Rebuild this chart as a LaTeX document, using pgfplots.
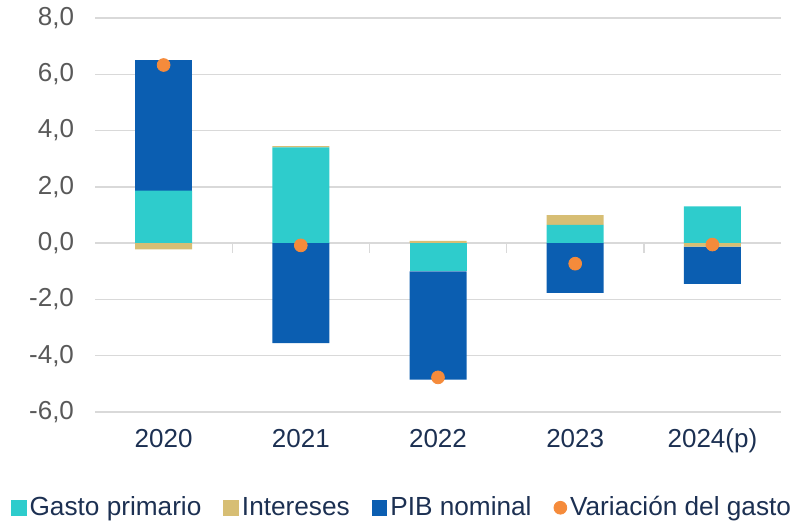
\documentclass[border=0pt]{standalone}
\usepackage{fontspec}
\setmainfont{Liberation Sans}
\usepackage{pgfplots}
\usepackage{pgfplotstable}
\pgfplotsset{compat=1.18}
\definecolor{cteal}{HTML}{2ECCCC}
\definecolor{ctan}{HTML}{D7BE74}
\definecolor{cblue}{HTML}{0B5EB1}
\definecolor{corange}{HTML}{F58B3B}
\definecolor{cgrid}{HTML}{D9D9D9}
\definecolor{cnavy}{HTML}{1C3052}
\definecolor{cgray}{HTML}{595959}

% positive parts (stacked upward from 0)
\pgfplotstableread{
x gp   ip   pp
0 1.87 0.00 4.63
1 3.40 0.05 0.00
2 0.00 0.08 0.00
3 0.65 0.35 0.00
4 1.31 0.00 0.00
}\pos
% negative parts (stacked downward from 0)
\pgfplotstableread{
x gn    in    pn
0 0.00  -0.22 0.00
1 0.00  0.00  -3.55
2 -1.00 0.00  -3.85
3 0.00  0.00  -1.77
4 0.00  -0.12 -1.33
}\neg
% variacion del gasto
\pgfplotstableread{
x dot
0 6.33
1 -0.08
2 -4.77
3 -0.73
4 -0.05
}\var

\pgfplotsset{
  base/.style={scale only axis, width=343bp, height=197bp,
    xmin=-0.5, xmax=4.5, ymin=-6, ymax=8},
  sq/.style={legend image code/.code={\fill[##1] (0bp,-3.9bp) rectangle (7.8bp,3.9bp);}},
}

\begin{document}
\begin{tikzpicture}
\begin{axis}[base,
  ybar stacked, bar width=28.5bp,
  ytick={-6,-4,...,8},
  xtick={0,...,4},
  xticklabels={2020,2021,2022,2023,2024(p)},
  axis line style={draw=none}, tick style={draw=none},
  ymajorgrids, grid style={cgrid,line width=0.7bp},
  /pgf/number format/.cd, fixed, fixed zerofill, precision=1, use comma, assume math mode=true,
  /pgfplots/.cd,
  xticklabel style={font=\fontsize{13bp}{15bp}\selectfont, text=cnavy, yshift=-5bp},
  yticklabel style={font=\fontsize{13bp}{15bp}\selectfont, text=cgray, xshift=-7bp},
  legend columns=4,
  legend style={draw=none, fill=none, at={(0.449,-0.243)}, anchor=center,
    font=\fontsize{13.1bp}{15bp}\selectfont, text=cnavy,
    cells={anchor=west},
    /tikz/every odd column/.append style={column sep=-0.5bp},
    /tikz/every even column/.append style={column sep=9bp}},
]
\addplot[fill=cteal, draw=none, sq] table[x=x,y=gp]{\pos};
\addlegendentry{Gasto primario}
\addplot[fill=ctan, draw=none, sq] table[x=x,y=ip]{\pos};
\addlegendentry{Intereses}
\addplot[fill=cblue, draw=none, sq] table[x=x,y=pp]{\pos};
\addlegendentry{PIB nominal}
\addlegendimage{legend image code/.code={\fill[corange] (3.9bp,0bp) circle (3.2bp);}}
\addlegendentry{Variación del gasto}
\draw[cgrid, line width=0.7bp] (axis cs:0.5,0) -- (axis cs:0.5,-0.35);
\draw[cgrid, line width=0.7bp] (axis cs:1.5,0) -- (axis cs:1.5,-0.35);
\draw[cgrid, line width=0.7bp] (axis cs:2.5,0) -- (axis cs:2.5,-0.35);
\draw[cgrid, line width=0.7bp] (axis cs:3.5,0) -- (axis cs:3.5,-0.35);
\end{axis}
\begin{axis}[base, hide axis, ybar stacked, bar width=28.5bp]
\addplot[fill=cteal, draw=none] table[x=x,y=gn]{\neg};
\addplot[fill=ctan, draw=none] table[x=x,y=in]{\neg};
\addplot[fill=cblue, draw=none] table[x=x,y=pn]{\neg};
\end{axis}
\begin{axis}[base, hide axis]
\addplot[only marks, mark=*, mark size=3.2bp, color=corange] table[x=x,y=dot]{\var};
\end{axis}
\pgfresetboundingbox
\path[use as bounding box] (-47.5bp,-54.5bp) rectangle (352.5bp,206bp);
\end{tikzpicture}
\end{document}
